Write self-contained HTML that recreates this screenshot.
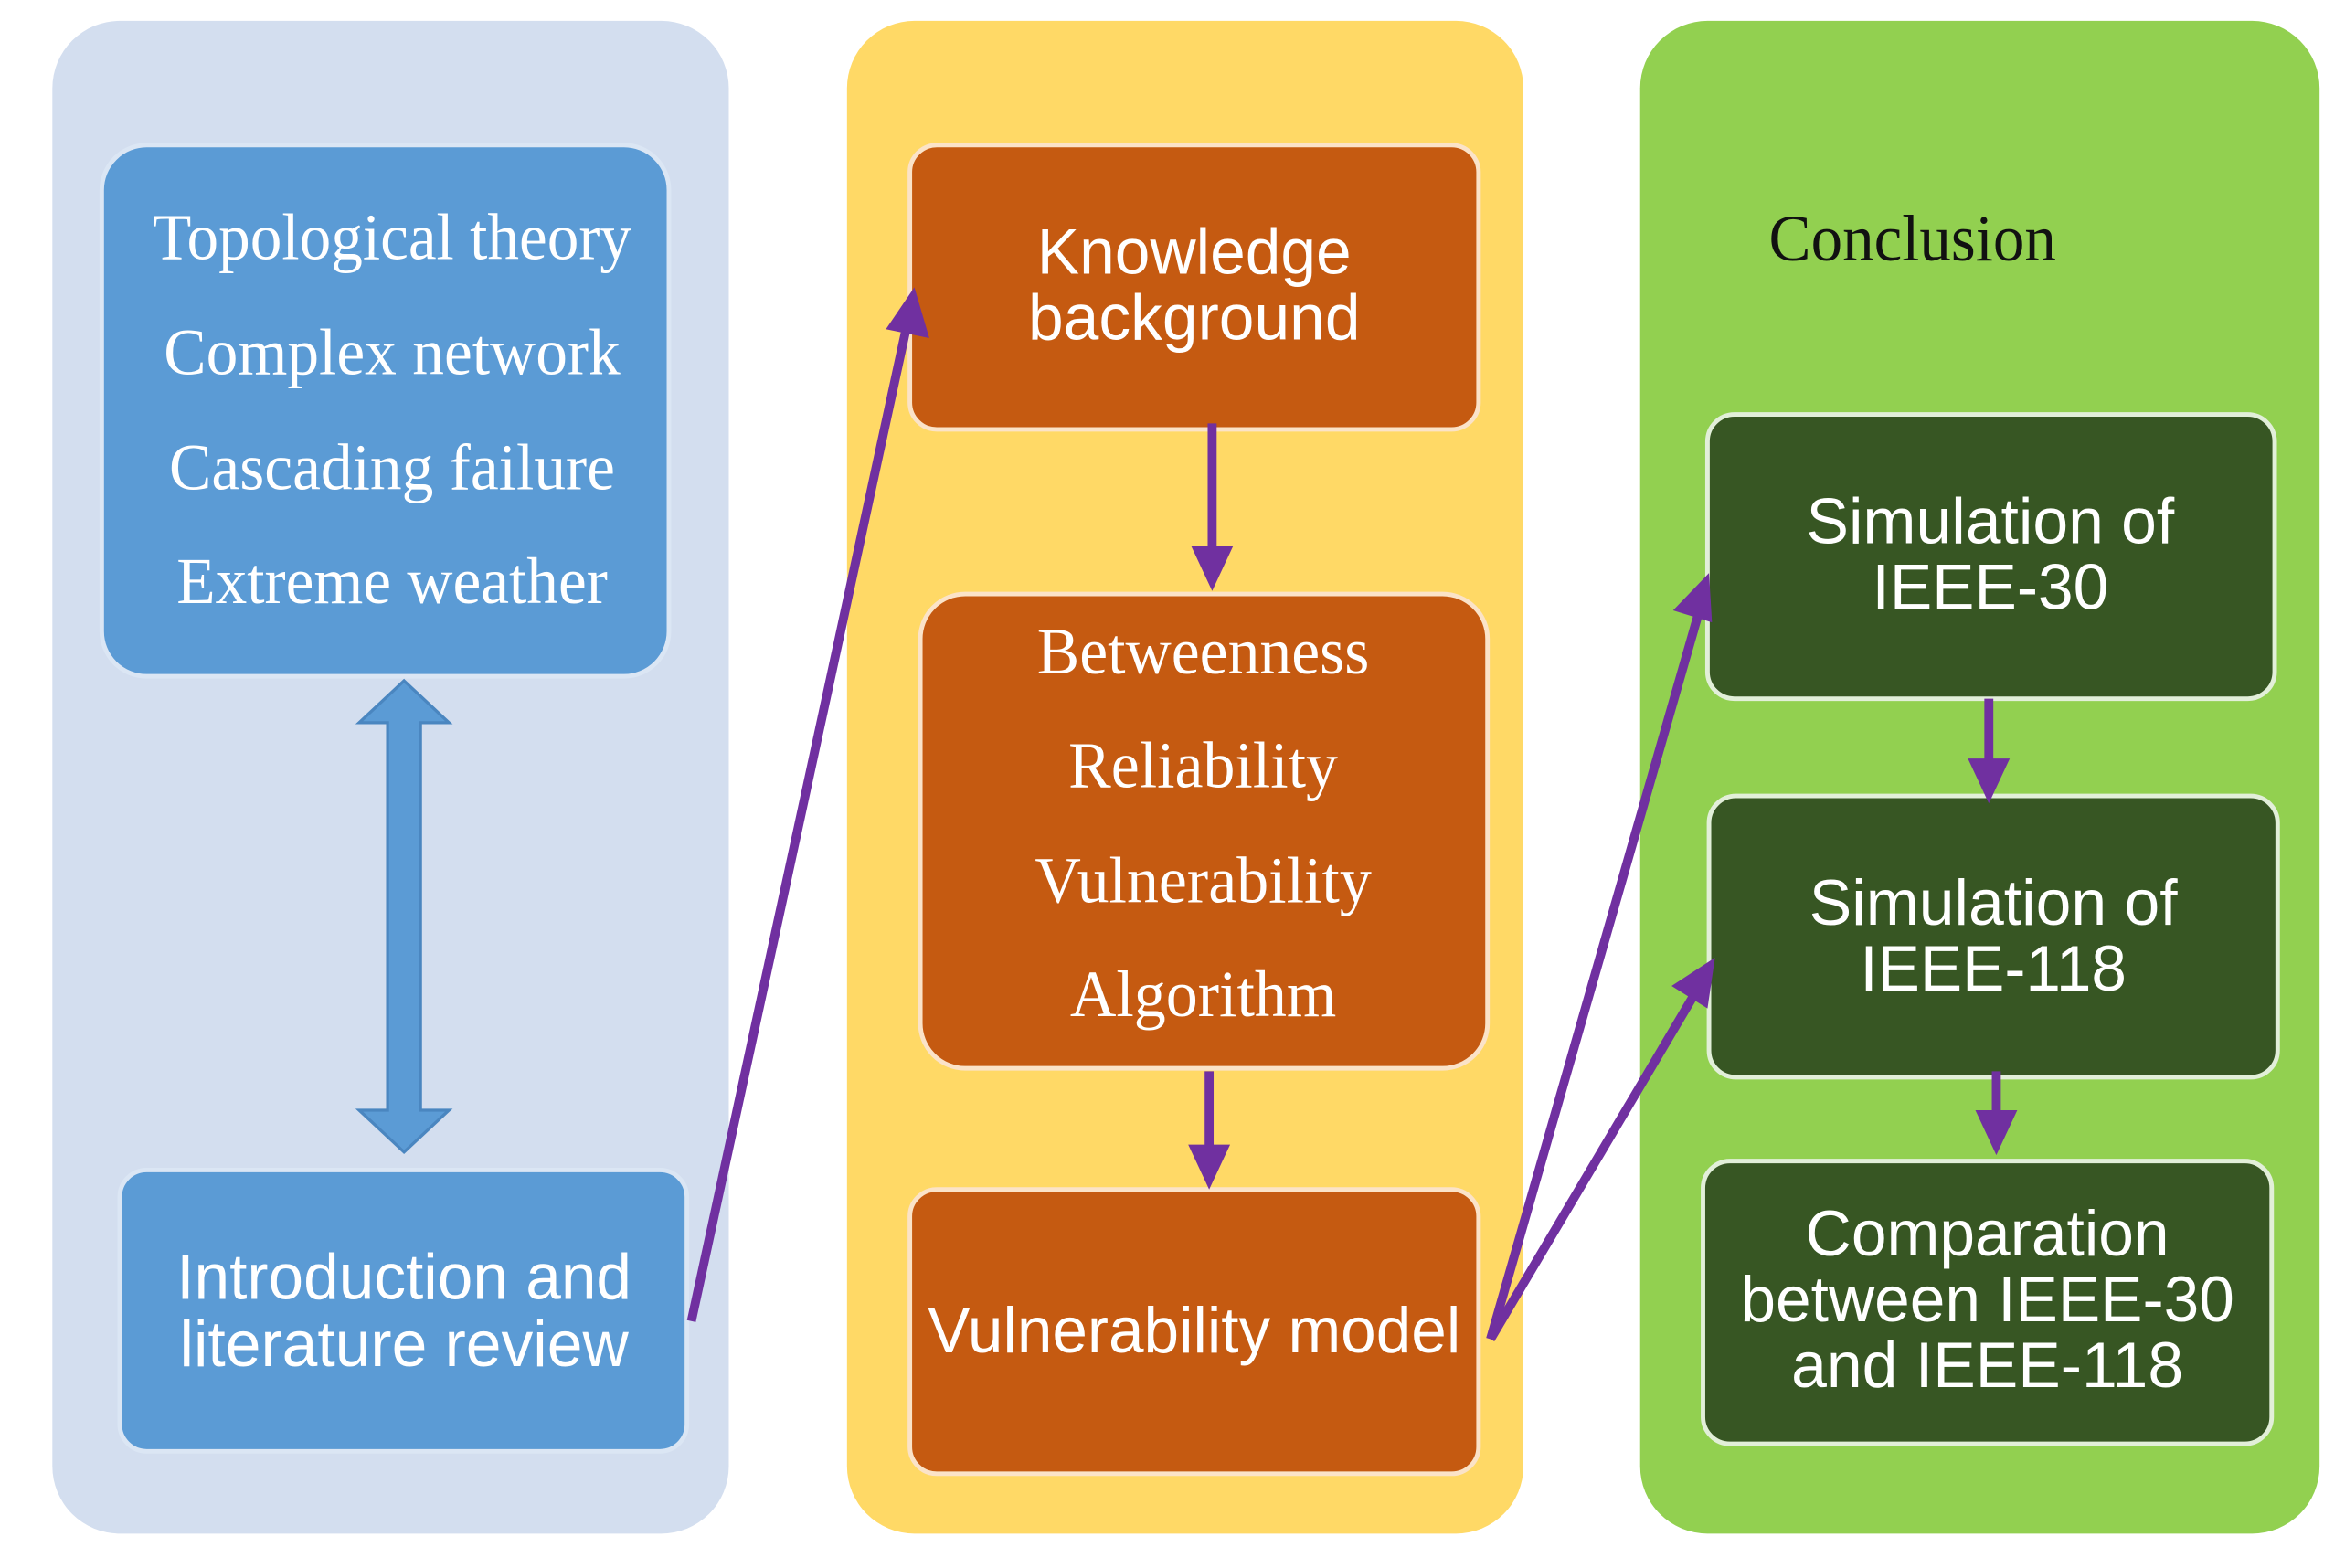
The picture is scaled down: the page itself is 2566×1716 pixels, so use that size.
<!DOCTYPE html>
<html><head><style>html,body{margin:0;padding:0;background:#fff}svg{display:block}</style></head>
<body>
<svg width="2566" height="1716" viewBox="0 0 1567 1048" preserveAspectRatio="none" xmlns="http://www.w3.org/2000/svg">
<rect x="35" y="14" width="452" height="1011" rx="45" fill="#d3deef"/>
<rect x="566" y="14" width="452" height="1011" rx="45" fill="#ffd966"/>
<rect x="1096" y="14" width="454" height="1011" rx="45" fill="#92d050"/>

<g stroke="#dbe6f4" stroke-width="3">
<rect x="68" y="97" width="379" height="355" rx="30" fill="#5b9bd5"/>
<rect x="80" y="782" width="379" height="188" rx="18" fill="#5b9bd5"/>
</g>
<g stroke="#fbe3c8" stroke-width="3" fill="#c55a11">
<rect x="608" y="97" width="380" height="190" rx="18"/>
<rect x="615" y="397" width="379" height="317" rx="30"/>
<rect x="608" y="795" width="380" height="190" rx="18"/>
</g>
<g stroke="#e2efd9" stroke-width="3" fill="#375623">
<rect x="1141" y="277" width="379" height="190" rx="18"/>
<rect x="1142" y="532" width="380" height="188" rx="18"/>
<rect x="1138" y="776" width="380" height="189" rx="18"/>
</g>

<polygon points="270,455 300,483 281,483 281,742 300,742 270,770 240,742 259,742 259,483 240,483" fill="#5b9bd5" stroke="#4a86c0" stroke-width="2"/>

<g font-family="Liberation Serif, serif" font-size="44" fill="#fff" text-anchor="middle" lengthAdjust="spacingAndGlyphs">
<text x="262" y="173" textLength="320" lengthAdjust="spacingAndGlyphs">Topological theory</text>
<text x="262" y="250" textLength="305" lengthAdjust="spacingAndGlyphs">Complex network</text>
<text x="262" y="327" textLength="298" lengthAdjust="spacingAndGlyphs">Cascading failure</text>
<text x="262" y="403" textLength="288" lengthAdjust="spacingAndGlyphs">Extreme weather</text>
<text x="804" y="450" textLength="222" lengthAdjust="spacingAndGlyphs">Betweenness</text>
<text x="804" y="526" textLength="180" lengthAdjust="spacingAndGlyphs">Reliability</text>
<text x="804" y="603" textLength="225" lengthAdjust="spacingAndGlyphs">Vulnerability</text>
<text x="804" y="679" textLength="178" lengthAdjust="spacingAndGlyphs">Algorithm</text>
<text x="1278" y="174" fill="#111" textLength="192" lengthAdjust="spacingAndGlyphs">Conclusion</text>
</g>
<g font-family="Liberation Sans, sans-serif" font-size="43" fill="#fff" text-anchor="middle">
<text x="798" y="183" textLength="210" lengthAdjust="spacingAndGlyphs">Knowledge</text>
<text x="798" y="227" textLength="222" lengthAdjust="spacingAndGlyphs">background</text>
<text x="270" y="868" textLength="304" lengthAdjust="spacingAndGlyphs">Introduction and</text>
<text x="270" y="913" textLength="300" lengthAdjust="spacingAndGlyphs">literature review</text>
<text x="798" y="904" textLength="356" lengthAdjust="spacingAndGlyphs">Vulnerability model</text>
<text x="1330" y="363" textLength="246" lengthAdjust="spacingAndGlyphs">Simulation of</text>
<text x="1330" y="407" textLength="158" lengthAdjust="spacingAndGlyphs">IEEE-30</text>
<text x="1332" y="618" textLength="246" lengthAdjust="spacingAndGlyphs">Simulation of</text>
<text x="1332" y="662" textLength="178" lengthAdjust="spacingAndGlyphs">IEEE-118</text>
<text x="1328" y="839" textLength="243" lengthAdjust="spacingAndGlyphs">Comparation</text>
<text x="1328" y="883" textLength="330" lengthAdjust="spacingAndGlyphs">between IEEE-30</text>
<text x="1328" y="927" textLength="262" lengthAdjust="spacingAndGlyphs">and IEEE-118</text>
</g>

<g stroke="#7030a0" stroke-width="6" fill="none">
<line x1="462" y1="883" x2="605" y2="222"/>
<line x1="810" y1="283" x2="810" y2="370"/>
<line x1="808" y1="716" x2="808" y2="768"/>
<line x1="996" y1="895" x2="1135" y2="410"/>
<line x1="996" y1="895" x2="1132" y2="665"/>
<line x1="1329" y1="467" x2="1329" y2="510"/>
<line x1="1334" y1="716" x2="1334" y2="748"/>
</g>
<g fill="#7030a0">
<polygon points="611,192 621,226 592,220"/>
<polygon points="810,395 796,365 824,365"/>
<polygon points="808,795 794,765 822,765"/>
<polygon points="1142,383 1144,416 1118,408"/>
<polygon points="1146,640 1141,674 1117,659"/>
<polygon points="1329,537 1315,507 1343,507"/>
<polygon points="1334,772 1320,742 1348,742"/>
</g>
</svg>
</body></html>
